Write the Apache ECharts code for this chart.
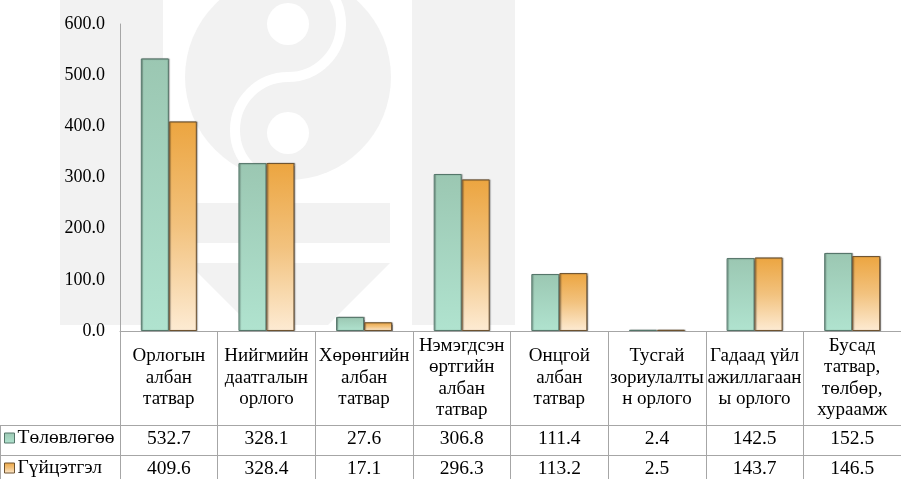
<!DOCTYPE html>
<html><head><meta charset="utf-8">
<script src="https://cdn.jsdelivr.net/npm/echarts@6/dist/echarts.min.js"></script>
<style>html,body{margin:0;padding:0;background:#fff}#c{width:901px;height:479px}</style>
</head><body><div id="c"></div>
<script>
const categories = [
  'Орлогын\nалбан\nтатвар',
  'Нийгмийн\nдаатгалын\nорлого',
  'Хөрөнгийн\nалбан\nтатвар',
  'Нэмэгдсэн\nөртгийн\nалбан\nтатвар',
  'Онцгой\nалбан\nтатвар',
  'Тусгай\nзориулалты\nн орлого',
  'Гадаад үйл\nажиллагаан\nы орлого',
  'Бусад\nтатвар,\nтөлбөр,\nхураамж'
];
const seriesNames = ['Төлөвлөгөө', 'Гүйцэтгэл'];
const planValues = [532.7, 328.1, 27.6, 306.8, 111.4, 2.4, 142.5, 152.5];
const actualValues = [409.6, 328.4, 17.1, 296.3, 113.2, 2.5, 143.7, 146.5];
const yMin = 0, yMax = 600, yStep = 100;

const FONT = '"Liberation Serif", "Times New Roman", serif';
const LINE = '#a6a6a6';
const WM = '#f2f2f2';
const TFS = 19.5;

const greenFill = new echarts.graphic.LinearGradient(0, 0, 0, 1, [
  {offset: 0, color: '#9bc7b2'}, {offset: 1, color: '#b0e3cf'}
]);
const orangeFill = new echarts.graphic.LinearGradient(0, 0, 0, 1, [
  {offset: 0, color: '#eca540'}, {offset: 0.5, color: '#f2c27e'}, {offset: 1, color: '#fdebd3'}
]);

const chart = echarts.init(document.getElementById('c'), null, {renderer: 'canvas'});

const valueAxis = (offset, arr) => ({
  type: 'category', data: categories, position: 'bottom', offset: offset,
  axisLine: {show: true, lineStyle: {color: LINE, width: 1}},
  axisTick: {show: false},
  axisLabel: {interval: 0, margin: 14, verticalAlign: 'middle', fontFamily: FONT, fontSize: TFS, color: '#000',
    formatter: (v, i) => arr[i].toFixed(1)}
});

chart.setOption({
  animation: false,
  backgroundColor: '#fff',
  grid: {left: 120, top: 24, width: 790, height: 307, containLabel: false},
  graphic: [
    {type: 'rect', z: -10, silent: true, shape: {x: 60, y: 0, width: 103, height: 325}, style: {fill: WM}},
    {type: 'rect', z: -10, silent: true, shape: {x: 412, y: 0, width: 103, height: 325}, style: {fill: WM}},
    {type: 'circle', z: -10, silent: true, shape: {cx: 288, cy: 77, r: 103}, style: {fill: WM}},
    {type: 'circle', z: -9, silent: true, shape: {cx: 288, cy: 24, r: 21}, style: {fill: '#fff'}},
    {type: 'circle', z: -9, silent: true, shape: {cx: 288, cy: 133, r: 21}, style: {fill: '#fff'}},
    {type: 'arc', z: -9, silent: true, shape: {cx: 288, cy: 24, r: 53, startAngle: -Math.PI / 2, endAngle: Math.PI / 2, clockwise: true},
      style: {fill: 'none', stroke: '#fff', lineWidth: 10}},
    {type: 'arc', z: -9, silent: true, shape: {cx: 288, cy: 130, r: 53, startAngle: Math.PI / 2, endAngle: Math.PI * 1.5, clockwise: true},
      style: {fill: 'none', stroke: '#fff', lineWidth: 10}},
    {type: 'rect', z: -10, silent: true, shape: {x: 185, y: 203, width: 205, height: 40}, style: {fill: WM}},
    {type: 'polygon', z: -10, silent: true, shape: {points: [[188, 263], [390, 263], [328, 325], [250, 325]]}, style: {fill: WM}},
    {type: 'line', silent: true, shape: {x1: 0, y1: 425.5, x2: 120, y2: 425.5}, style: {stroke: LINE, lineWidth: 1}},
    {type: 'line', silent: true, shape: {x1: 0, y1: 455.5, x2: 120, y2: 455.5}, style: {stroke: LINE, lineWidth: 1}},
    {type: 'line', silent: true, shape: {x1: 0.5, y1: 425, x2: 0.5, y2: 479}, style: {stroke: LINE, lineWidth: 1}}
  ],
  legend: [
    {data: [seriesNames[0]], left: 4, top: 428, padding: 0, icon: 'rect', itemWidth: 10, itemHeight: 10, itemGap: 0,
      itemStyle: {borderColor: '#55766a', borderWidth: 1},
      textStyle: {fontFamily: FONT, fontSize: TFS, color: '#000', lineHeight: 20, padding: [0, 0, 0, -2]}},
    {data: [seriesNames[1]], left: 4, top: 458, padding: 0, icon: 'rect', itemWidth: 10, itemHeight: 10, itemGap: 0,
      itemStyle: {borderColor: '#6e5330', borderWidth: 1},
      textStyle: {fontFamily: FONT, fontSize: TFS, color: '#000', lineHeight: 20, padding: [0, 0, 0, -2]}}
  ],
  xAxis: [
    {
      type: 'category', data: categories, position: 'bottom',
      axisLine: {show: true, lineStyle: {color: LINE, width: 1}},
      axisTick: {show: true, length: 150, lineStyle: {color: LINE, width: 1}},
      axisLabel: {interval: 0, margin: 47, verticalAlign: 'middle', lineHeight: 21.5, fontFamily: FONT, fontSize: 19, color: '#000'}
    },
    valueAxis(94, planValues),
    valueAxis(124, actualValues)
  ],
  yAxis: {
    type: 'value', min: yMin, max: yMax, interval: yStep,
    axisLine: {show: true, lineStyle: {color: LINE, width: 1}},
    axisTick: {show: false},
    splitLine: {show: false},
    axisLabel: {margin: 15, fontFamily: FONT, fontSize: 18, color: '#000', formatter: v => v.toFixed(1)}
  },
  series: [
    {name: seriesNames[0], type: 'bar', data: planValues, barWidth: 28, barGap: '0%',
      itemStyle: {color: greenFill, borderColor: '#55766a', borderWidth: 1,
        shadowColor: 'rgba(0,0,0,0.35)', shadowBlur: 1, shadowOffsetX: 1}},
    {name: seriesNames[1], type: 'bar', data: actualValues, barWidth: 28, barGap: '0%',
      itemStyle: {color: orangeFill, borderColor: '#6e5330', borderWidth: 1,
        shadowColor: 'rgba(0,0,0,0.35)', shadowBlur: 1, shadowOffsetX: 1}}
  ]
});
</script></body></html>
